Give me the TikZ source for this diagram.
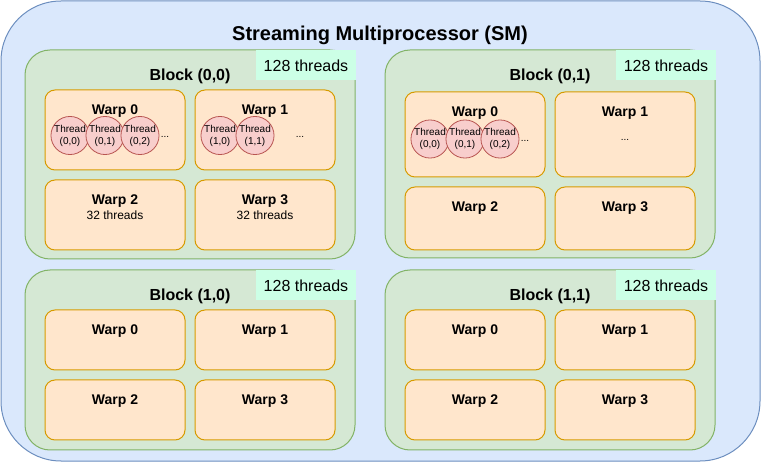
\documentclass[tikz,border=0pt]{standalone}
\usepackage{fontspec}
\setmainfont{Liberation Sans}
\definecolor{smfill}{HTML}{DAE8FC}
\definecolor{smline}{HTML}{6C8EBF}
\definecolor{blkfill}{HTML}{D5E8D4}
\definecolor{blkline}{HTML}{82B366}
\definecolor{warpfill}{HTML}{FFE6CC}
\definecolor{warpline}{HTML}{D79B00}
\definecolor{thrfill}{HTML}{F8CECC}
\definecolor{thrline}{HTML}{B85450}
\definecolor{tagfill}{HTML}{CCFFE6}
\tikzset{
  smbox/.style={draw=smline, fill=smfill, rounded corners=60pt, line width=1pt, inner sep=0pt, outer sep=0pt, anchor=north west},
  blockbox/.style={draw=blkline, fill=blkfill, rounded corners=25pt, line width=1pt, inner sep=0pt, outer sep=0pt, anchor=north west, minimum width=330pt},
  tagbox/.style={fill=tagfill, inner sep=0pt, outer sep=0pt, minimum width=100pt, minimum height=30pt, font=\fontsize{16}{19}\selectfont},
  warpbox/.style={draw=warpline, fill=warpfill, rounded corners=10pt, line width=1pt, inner sep=0pt, outer sep=0pt, anchor=north west, minimum width=140pt},
  threadnode/.style={circle, draw=thrline, fill=thrfill, line width=0.8pt, minimum size=30pt, inner sep=0pt, font=\fontsize{10}{12}\selectfont, align=center},
  titletext/.style={font=\bfseries\fontsize{20}{24}\selectfont, inner sep=0pt},
  blocktext/.style={font=\bfseries\fontsize{16}{19}\selectfont, inner sep=0pt},
  warptext/.style={font=\bfseries\fontsize{14}{17}\selectfont, inner sep=0pt},
  smalltext/.style={font=\fontsize{12}{14}\selectfont, inner sep=0pt},
  dotstext/.style={font=\fontsize{10}{12}\selectfont, inner sep=0pt}
}
\begin{document}
\begin{tikzpicture}[x=1pt,y=-1pt]
\useasboundingbox (0,0) rectangle (761,462);
% SM
\node[smbox, minimum width=759pt, minimum height=460pt] (sm) at (1,1) {};
\node[titletext] (smtitle) at (380,35) {Streaming Multiprocessor (SM)};
% Blocks
\node[blockbox, minimum height=209pt] (b00) at (25,50) {};
\node[blockbox, minimum height=208pt] (b01) at (385,50) {};
\node[blockbox, minimum height=180pt] (b10) at (25,270) {};
\node[blockbox, minimum height=180pt] (b11) at (385,270) {};
% tags
\node[tagbox] (t00) at (306,65.5) {128 threads};
\node[tagbox] (t01) at (666,65.5) {128 threads};
\node[tagbox] (t10) at (306,285.5) {128 threads};
\node[tagbox] (t11) at (666,285.5) {128 threads};
% block labels
\node[blocktext] (l00) at (190,76.5) {Block (0,0)};
\node[blocktext] (l01) at (550,76.5) {Block (0,1)};
\node[blocktext] (l10) at (190,296.5) {Block (1,0)};
\node[blocktext] (l11) at (550,296.5) {Block (1,1)};
% warps block (0,0)
\node[warpbox, minimum height=80pt] (b00w0) at (45,90) {};
\node[warpbox, minimum height=80pt] (b00w1) at (195,90) {};
\node[warpbox, minimum height=70pt] (b00w2) at (45,180) {};
\node[warpbox, minimum height=70pt] (b00w3) at (195,180) {};
% warps block (0,1)
\node[warpbox, minimum height=85pt] (b01w0) at (405,92) {};
\node[warpbox, minimum height=85pt] (b01w1) at (555,92) {};
\node[warpbox, minimum height=63pt] (b01w2) at (405,187) {};
\node[warpbox, minimum height=63pt] (b01w3) at (555,187) {};
% warps block (1,0)
\node[warpbox, minimum height=60pt] (b10w0) at (45,310) {};
\node[warpbox, minimum height=60pt] (b10w1) at (195,310) {};
\node[warpbox, minimum height=60pt] (b10w2) at (45,380) {};
\node[warpbox, minimum height=60pt] (b10w3) at (195,380) {};
% warps block (1,1)
\node[warpbox, minimum height=60pt] (b11w0) at (405,310) {};
\node[warpbox, minimum height=60pt] (b11w1) at (555,310) {};
\node[warpbox, minimum height=60pt] (b11w2) at (405,380) {};
\node[warpbox, minimum height=60pt] (b11w3) at (555,380) {};
% warp labels
\node[warptext] (b00w0l) at (115,111.5) {Warp 0};
\node[warptext] (b00w1l) at (265,111.5) {Warp 1};
\node[warptext] (b00w2l) at (115,201.5) {Warp 2};
\node[warptext] (b00w3l) at (265,201.5) {Warp 3};
\node[smalltext] (b00w2s) at (115,215.5) {32 threads};
\node[smalltext] (b00w3s) at (265,215.5) {32 threads};
\node[warptext] (b01w0l) at (475,113.5) {Warp 0};
\node[warptext] (b01w1l) at (625,113.5) {Warp 1};
\node[warptext] (b01w2l) at (475,208.5) {Warp 2};
\node[warptext] (b01w3l) at (625,208.5) {Warp 3};
\node[warptext] (b10w0l) at (115,331.5) {Warp 0};
\node[warptext] (b10w1l) at (265,331.5) {Warp 1};
\node[warptext] (b10w2l) at (115,401.5) {Warp 2};
\node[warptext] (b10w3l) at (265,401.5) {Warp 3};
\node[warptext] (b11w0l) at (475,331.5) {Warp 0};
\node[warptext] (b11w1l) at (625,331.5) {Warp 1};
\node[warptext] (b11w2l) at (475,401.5) {Warp 2};
\node[warptext] (b11w3l) at (625,401.5) {Warp 3};
% threads block (0,0)
\node[threadnode] (th000) at (70,135.5) {Thread\\(0,0)};
\node[threadnode] (th001) at (105,135.5) {Thread\\(0,1)};
\node[threadnode] (th002) at (140,135.5) {Thread\\(0,2)};
\node[dotstext] (d00a) at (165,137) {...};
\node[threadnode] (th010) at (220,135.5) {Thread\\(1,0)};
\node[threadnode] (th011) at (255,135.5) {Thread\\(1,1)};
\node[dotstext] (d00b) at (300,137) {...};
% threads block (0,1)
\node[threadnode] (th100) at (430,139) {Thread\\(0,0)};
\node[threadnode] (th101) at (465,139) {Thread\\(0,1)};
\node[threadnode] (th102) at (500,139) {Thread\\(0,2)};
\node[dotstext] (d01a) at (525,141) {...};
\node[dotstext] (d01b) at (625,140) {...};
\end{tikzpicture}
\end{document}
